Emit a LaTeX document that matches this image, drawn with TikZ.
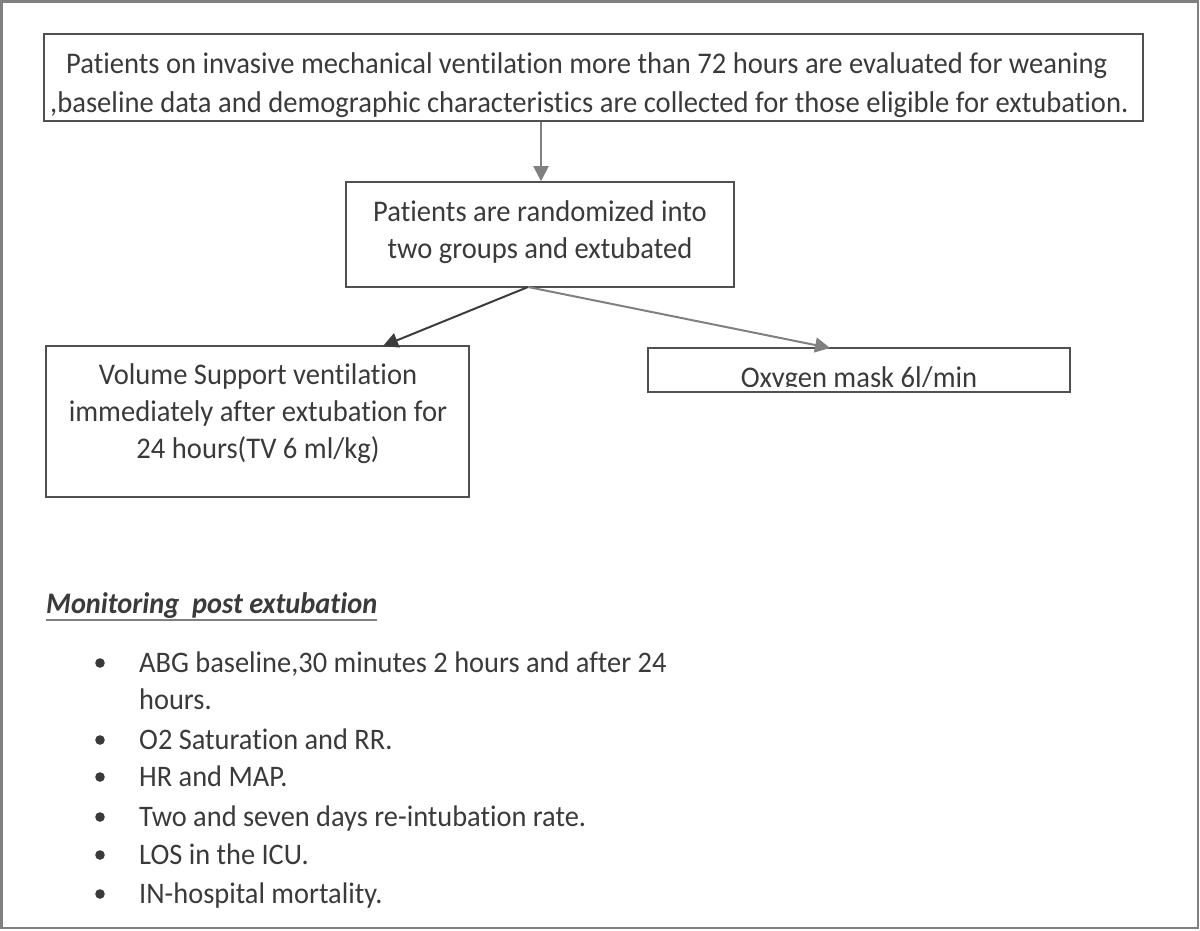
\documentclass[tikz,border=0pt]{standalone}
\usepackage{fontspec}
\setmainfont{Carlito}[Ligatures={NoCommon},FakeStretch=0.953]
\usetikzlibrary{arrows.meta}
\definecolor{txtgray}{HTML}{3A3A3A}
\definecolor{boxgray}{HTML}{505050}
\definecolor{arrgray}{HTML}{808080}
\definecolor{arrdark}{HTML}{3C3C3C}
\tikzset{
  box/.style={draw=boxgray, line width=1.6pt, rectangle, inner sep=0pt},
  txt/.style={text=txtgray, font=\fontsize{30}{36}\selectfont, inner sep=0pt},
  btxt/.style={text=txtgray, font=\fontsize{29.8}{36}\selectfont, inner sep=0pt},
  conn/.style={line width=2pt, -{Triangle[length=15pt,width=15pt]}},
}
\begin{document}
\begin{tikzpicture}[x=1pt,y=-1pt]
\useasboundingbox (0,0) rectangle (1200,930);
\draw[arrgray, line width=2.5pt] (1.25,1.25) rectangle (1198,928);
% top box
\node[box, minimum width=1099pt, minimum height=87pt] (top) at (593.5,77.5) {};
\begin{scope}
\clip (44,34) rectangle (1143,117);
\node[txt, anchor=base west] (t1) at (66,73) {Patients on invasive mechanical ventilation more than 72 hours are evaluated for weaning};
\node[txt, anchor=base west] (t2) at (50,112) {,baseline data and demographic characteristics are collected for those eligible for extubation.};
\end{scope}
% randomized box
\node[box, minimum width=388pt, minimum height=105pt] (rand) at (540,234.5) {};
\node[txt, anchor=base] (r1) at (540,221) {Patients are randomized into};
\node[txt, anchor=base] (r2) at (540,258) {two groups and extubated};
% left box
\node[box, minimum width=423pt, minimum height=151pt] (vsv) at (257.5,421.5) {};
\node[txt, anchor=base] (v1) at (258,384) {Volume Support ventilation};
\node[txt, anchor=base] (v2) at (258,421) {immediately after extubation for};
\node[txt, anchor=base] (v3) at (258,458) {24 hours(TV 6 ml/kg)};
% right box
\node[box, minimum width=422pt, minimum height=44pt] (oxy) at (859,370) {};
\begin{scope}
\clip (648,348) rectangle (1070,386.5);
\node[txt, anchor=base] (o1) at (859,387) {Oxygen mask 6l/min};
\end{scope}
% connectors
\coordinate (split) at (528,287);
\draw[conn, arrgray] (top.south -| 541,0) -- (rand.north -| 541,0);
\draw[conn, arrdark] (split) -- (383,346);
\draw[conn, arrgray] (split) -- (830,348);
% monitoring
\node[btxt, font=\bfseries\itshape\fontsize{29.8}{36}\selectfont, anchor=base west] (mon) at (46,613) {Monitoring\ \ post extubation};
\draw[arrgray, line width=1.5pt] (mon.base west) ++(0,7) -- ++(331,0);
\foreach \y/\t in {672/{ABG baseline,30 minutes 2 hours and after 24},709/{hours.},749/{O2 Saturation and RR.},786/{HR and MAP.},826/{Two and seven days re-intubation rate.},864/{LOS in the ICU.},903/{IN-hospital mortality.}}{
  \node[btxt, anchor=base west] at (139,\y) {\t};
}
\foreach \y in {672,749,786,826,864,903}{
  \fill[txtgray] (100,\y-9) circle (4.8pt);
}
\end{tikzpicture}
\end{document}
